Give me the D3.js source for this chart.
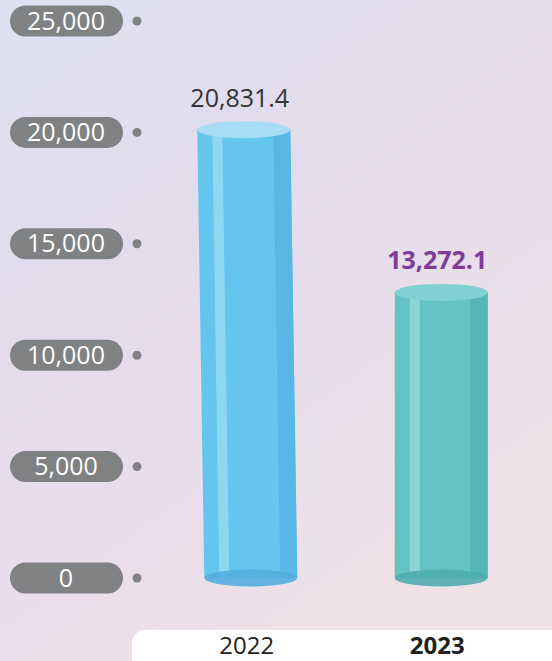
<!DOCTYPE html>
<html>
<head>
<meta charset="utf-8">
<script src="https://cdn.jsdelivr.net/npm/d3@7"></script>
<style>
  html, body { margin: 0; padding: 0; }
  body { width: 552px; height: 661px; overflow: hidden; font-family: "Open Sans", sans-serif; }
</style>
</head>
<body>
<div id="chart"></div>
<script>
// data
const years = ['2022', '2023'];
const values = [20831.4, 13272.1];
const valueLabels = ['20,831.4', '13,272.1'];
const tickValues = [0, 5000, 10000, 15000, 20000, 25000];

const W = 552, H = 661;
const svg = d3.select('#chart').append('svg')
    .attr('width', W)
    .attr('height', H);

const defs = svg.append('defs');
const bg = defs.append('linearGradient').attr('id', 'bg')
    .attr('x1', '0').attr('y1', '0').attr('x2', '0.6').attr('y2', '1');
bg.append('stop').attr('offset', '0').attr('stop-color', '#dde1f2');
bg.append('stop').attr('offset', '0.45').attr('stop-color', '#e4dbec');
bg.append('stop').attr('offset', '1').attr('stop-color', '#efe2e7');

svg.append('rect').attr('width', W).attr('height', H).attr('fill', 'url(#bg)');

// scales
const yAxis = d3.scaleLinear().domain([0, 25000]).range([578, 21]);
const yBar = d3.scaleLinear().domain([0, 25000]).range([578, 40]); // bars drawn a bit shorter than the tick pills
const x = d3.scaleBand().domain(years).range([145, 540]).paddingInner(0.5).paddingOuter(0.25);

// tick pills
const ticks = svg.append('g').attr('class', 'y_axis');
const tk = ticks.selectAll('g').data(tickValues).enter().append('g')
    .attr('transform', d => 'translate(0,' + yAxis(d) + ')');
tk.append('rect')
    .attr('x', 10).attr('y', -15.5)
    .attr('width', 113).attr('height', 31)
    .attr('rx', 15.5)
    .attr('fill', '#808183');
tk.append('text')
    .attr('x', 66).attr('y', 8.5)
    .attr('text-anchor', 'middle')
    .attr('fill', '#fff')
    .attr('font-size', '25px')
    .text(d => d3.format(',')(d));
tk.append('circle')
    .attr('cx', 137).attr('cy', 0).attr('r', 4.5)
    .attr('fill', '#808183');

// bottom label strip
svg.append('rect')
    .attr('x', 132).attr('y', 630)
    .attr('width', 430).attr('height', 50)
    .attr('rx', 13)
    .attr('fill', '#fff');

const palettes = [
    { body: '#64c6ec', light: '#8ed7f2', dark: '#58b7e4', top: '#a6ddf4', bottom: '#53addf', label: '#333333', weight: 'normal', skew: 7 },
    { body: '#66c3c4', light: '#8cd6d5', dark: '#56b6b6', top: '#80d1d1', bottom: '#4eadad', label: '#7d3c98', weight: 'bold', skew: 0 }
];

const bw = 93, ry = 8.5;
const bars = svg.append('g').attr('class', 'bars');

years.forEach(function (yr, i) {
    const p = palettes[i];
    const cxTop = x(yr) + x.bandwidth() / 2;
    const cxBot = cxTop + p.skew;
    const yt = yBar(values[i]);
    const yb = yBar(0);
    const g = bars.append('g');

    // body
    g.append('path')
        .attr('d', 'M' + (cxTop - bw / 2) + ',' + yt +
            'L' + (cxTop + bw / 2) + ',' + yt +
            'L' + (cxBot + bw / 2) + ',' + yb +
            'L' + (cxBot - bw / 2) + ',' + yb + 'Z')
        .attr('fill', p.body);
    // light stripe
    const ls = 15, lw = 10;
    g.append('path')
        .attr('d', 'M' + (cxTop - bw / 2 + ls) + ',' + yt +
            'L' + (cxTop - bw / 2 + ls + lw) + ',' + yt +
            'L' + (cxBot - bw / 2 + ls + lw) + ',' + yb +
            'L' + (cxBot - bw / 2 + ls) + ',' + yb + 'Z')
        .attr('fill', p.light);
    // dark stripe on right
    const ds = 17;
    g.append('path')
        .attr('d', 'M' + (cxTop + bw / 2 - ds) + ',' + yt +
            'L' + (cxTop + bw / 2) + ',' + yt +
            'L' + (cxBot + bw / 2) + ',' + yb +
            'L' + (cxBot + bw / 2 - ds) + ',' + yb + 'Z')
        .attr('fill', p.dark);
    // bottom ellipse
    g.append('ellipse')
        .attr('cx', cxBot).attr('cy', yb)
        .attr('rx', bw / 2).attr('ry', ry)
        .attr('fill', p.bottom)
        .attr('opacity', 0.9);
    // top ellipse
    g.append('ellipse')
        .attr('cx', cxTop).attr('cy', yt)
        .attr('rx', bw / 2).attr('ry', ry)
        .attr('fill', p.top);

    // value label
    g.append('text')
        .attr('x', cxTop - 4).attr('y', yt - 23)
        .attr('text-anchor', 'middle')
        .attr('font-size', '25px')
        .attr('font-weight', p.weight)
        .attr('fill', p.label)
        .text(valueLabels[i]);

    // year label
    svg.append('text')
        .attr('x', cxBot - 4).attr('y', 654)
        .attr('text-anchor', 'middle')
        .attr('font-size', '24px')
        .attr('font-weight', p.weight)
        .attr('fill', '#231f20')
        .text(yr);
});
</script>
</body>
</html>
